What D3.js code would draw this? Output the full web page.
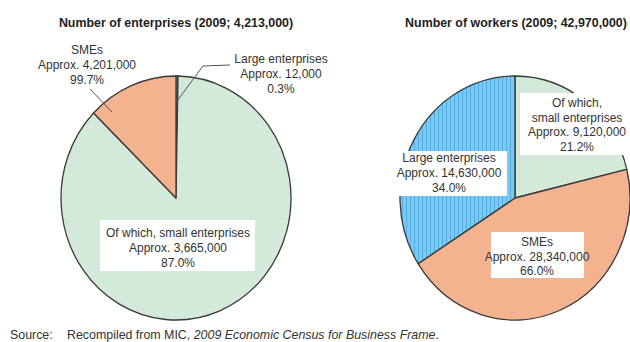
<!DOCTYPE html>
<html>
<head>
<meta charset="utf-8">
<script src="https://cdn.jsdelivr.net/npm/d3@7"></script>
<style>
  html, body { margin: 0; padding: 0; background: #ffffff; }
  svg { display: block; font-family: "Liberation Sans", Arial, sans-serif; }
</style>
</head>
<body>
<svg id="chart" width="630" height="342"></svg>
<script>
// Enterprise counts (2009), clockwise from 12 o'clock
const enterpriseKeys   = ["large", "small", "medium"];
const enterpriseValues = [12000, 3665000, 536000];

// Worker counts (2009), clockwise from 12 o'clock
const workerKeys   = ["small", "medium", "large"];
const workerValues = [9120000, 19220000, 14630000];

const titles = ["Number of enterprises (2009; 4,213,000)", "Number of workers (2009; 42,970,000)"];

const enterpriseLabels = [
  ["SMEs", "Approx. 4,201,000", "99.7%"],
  ["Large enterprises", "Approx. 12,000", "0.3%"],
  ["Of which, small enterprises", "Approx. 3,665,000", "87.0%"]
];
const workerLabels = [
  ["Of which,", "small enterprises", "Approx. 9,120,000", "21.2%"],
  ["Large enterprises", "Approx. 14,630,000", "34.0%"],
  ["SMEs", "Approx. 28,340,000", "66.0%"]
];

const svg = d3.select("#chart");

// vertical stripe fill for large enterprises
const defs = svg.append("defs");
const pat = defs.append("pattern")
  .attr("id", "stripes").attr("patternUnits", "userSpaceOnUse")
  .attr("width", 4).attr("height", 10);
pat.append("rect").attr("width", 4).attr("height", 10).attr("fill", "#7ccaf2");
pat.append("rect").attr("x", 3).attr("width", 1).attr("height", 10).attr("fill", "#52aee2");

const color = d3.scaleOrdinal()
  .domain(["small", "medium", "large"])
  .range(["#d3eadb", "#f3b38f", "url(#stripes)"]);

const R = 115, RY = 122;
const pie = d3.pie().sort(null).value(d => d.v);
const arc = d3.arc().innerRadius(0).outerRadius(R);

function drawPie(cx, cy, keys, values) {
  const g = svg.append("g").attr("transform", `translate(${cx},${cy}) scale(1,${RY / R})`);
  const data = keys.map((k, i) => ({ k, v: values[i] }));
  g.selectAll("path").data(pie(data)).join("path")
    .attr("d", arc)
    .attr("fill", d => color(d.data.k))
    .attr("stroke", "#3a3a3a")
    .attr("stroke-width", 1.3)
    .attr("vector-effect", "non-scaling-stroke")
    .attr("stroke-linejoin", "round");
  return g;
}

drawPie(176, 198, enterpriseKeys, enterpriseValues);
drawPie(515, 198, workerKeys, workerValues);

// titles
svg.selectAll("text.title").data(titles).join("text")
  .attr("class", "title")
  .attr("x", (d, i) => i === 0 ? 176 : 516)
  .attr("y", 27)
  .attr("text-anchor", "middle")
  .attr("font-size", 12.4)
  .attr("font-weight", "bold")
  .attr("fill", "#222")
  .text(d => d);

// multi-line label with optional white box
function label(lines, cx, firstBaseline, lh, box) {
  const g = svg.append("g");
  if (box) {
    g.append("rect")
      .attr("x", box[0]).attr("y", box[1])
      .attr("width", box[2]).attr("height", box[3])
      .attr("fill", "#ffffff");
  }
  g.selectAll("text").data(lines).join("text")
    .attr("x", cx)
    .attr("y", (d, i) => firstBaseline + i * lh)
    .attr("text-anchor", "middle")
    .attr("font-size", 12)
    .attr("fill", "#333")
    .text(d => d);
}

// leader lines for the outside labels
svg.append("polyline")
  .attr("points", "90,89 112,112")
  .attr("fill", "none").attr("stroke", "#555").attr("stroke-width", 1);
svg.append("polyline")
  .attr("points", "177,101 203,66 230,65")
  .attr("fill", "none").attr("stroke", "#555").attr("stroke-width", 1);

label(enterpriseLabels[0], 87, 54, 15, null);
label(enterpriseLabels[1], 281, 63, 15, null);
label(enterpriseLabels[2], 178, 237, 15, [100, 220, 155, 51]);

label(workerLabels[0], 577, 107, 14.5, [520, 93, 112, 62]);
label(workerLabels[1], 449, 162, 15, [393, 151, 114, 45]);
label(workerLabels[2], 537, 246, 14.5, [491, 232, 93, 46]);

// source note
const src = svg.append("text")
  .attr("x", 10).attr("y", 339)
  .attr("font-size", 12.4)
  .attr("fill", "#333");
src.append("tspan").text("Source:");
src.append("tspan").attr("x", 67).text("Recompiled from MIC, ");
src.append("tspan").attr("font-style", "italic").text("2009 Economic Census for Business Frame");
src.append("tspan").text(".");
</script>
</body>
</html>
